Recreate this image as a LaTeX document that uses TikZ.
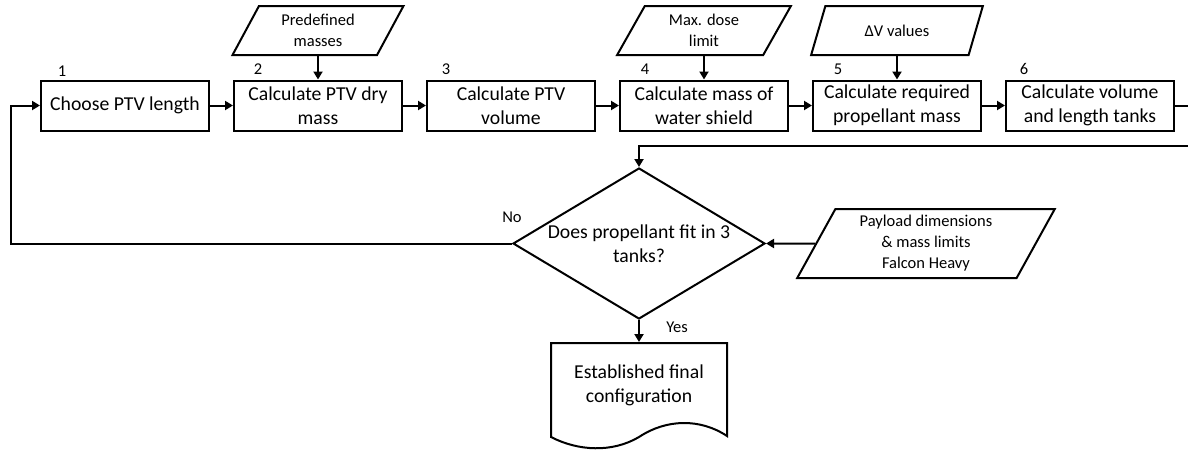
\documentclass[tikz,border=0pt]{standalone}
\usepackage{fontspec}
\setmainfont{Carlito}
\usetikzlibrary{shapes.geometric}
\usetikzlibrary{arrows.meta}

\tikzset{
  process/.style = {draw, line width=2pt, minimum width=168pt, minimum height=50pt,
    inner sep=1pt, align=center, font=\fontsize{19.7}{24}\selectfont},
  data/.style = {trapezium, trapezium left angle=64, trapezium right angle=116,
    trapezium stretches=true, draw, line width=2pt, minimum height=49pt,
    inner sep=1pt, align=center, font=\fontsize{16.5}{21}\selectfont},
  decision/.style = {diamond, draw, line width=2pt, minimum width=252pt,
    minimum height=151pt, inner sep=0pt},
  tag/.style = {inner sep=0pt, font=\fontsize{16.5}{21}\selectfont},
  flow/.style = {line width=2pt, -{Triangle[length=8pt,width=9pt]}},
  line/.style = {line width=2pt}
}

\begin{document}
\begin{tikzpicture}[x=1pt, y=-1pt]
                \useasboundingbox (0, 0) rectangle (1188, 450);
                % main row
                \node [process] (ptvlen) at (125, 105.5) {Choose PTV length};
                \node [process] (drymass) at (318, 105.5) {Calculate PTV dry\\mass};
                \node [process] (volume) at (511, 105.5) {Calculate PTV\\volume};
                \node [process] (shield) at (704, 105.5) {Calculate mass of\\water shield};
                \node [process] (propmass) at (897, 105.5) {Calculate required\\propellant mass};
                \node [process] (tanks) at (1090, 105.5) {Calculate volume\\and length tanks};
                \node [tag] (n1) at (62, 71) {1};
                \node [tag] (n2) at (258, 69) {2};
                \node [tag] (n3) at (446, 69) {3};
                \node [tag] (n4) at (645, 69) {4};
                \node [tag] (n5) at (838, 69) {5};
                \node [tag] (n6) at (1024, 69) {6};
                % inputs
                \node [data, minimum width=171pt] (masses) at (318, 30.5) {Predefined\\masses};
                \node [data, minimum width=174pt] (dose) at (704, 30.5) {Max. dose\\limit};
                \node [data, minimum width=172pt] (dv) at (897, 30.5) {ΔV values};
                \node [data, minimum width=258pt, minimum height=69pt] (payload) at (926, 243.5)
                      {Payload dimensions\\\& mass limits\\Falcon Heavy};
                % check and result
                \node [decision, label={[align=center, font=\fontsize{19.7}{24}\selectfont]center:Does propellant fit in 3\\tanks?}]
                      (fit) at (639, 243.5) {};
                \node [tag] (no) at (512, 217) {No};
                \node [tag] (yes) at (677, 327) {Yes};
                \node [process, draw=none, minimum width=176pt, minimum height=84pt] (final) at (639, 385)
                      {Established final\\configuration};
                \draw [line] (551, 437) -- (551, 343) -- (727, 343) -- (727, 436)
                      .. controls (700, 418) and (666, 419) .. (639, 437)
                      .. controls (612, 453) and (578, 451) .. (551, 437) -- cycle;
                \coordinate (turn) at (1197, 146);
                \coordinate (back) at (11, 243.5);
                % connectors
                \draw [flow] (ptvlen) -- (drymass);
                \draw [flow] (drymass) -- (volume);
                \draw [flow] (volume) -- (shield);
                \draw [flow] (shield) -- (propmass);
                \draw [flow] (propmass) -- (tanks);
                \draw [flow] (masses) -- (drymass);
                \draw [flow] (dose) -- (shield);
                \draw [flow] (dv) -- (propmass);
                \draw [flow] (tanks.east) -| (turn) -| (fit.north);
                \draw [flow] (payload.west) -- (fit.east);
                \draw [flow] (fit.west) -- (back) |- (ptvlen.west);
                \draw [flow] (fit.south) -- (final.north);
            \end{tikzpicture}
\end{document}
